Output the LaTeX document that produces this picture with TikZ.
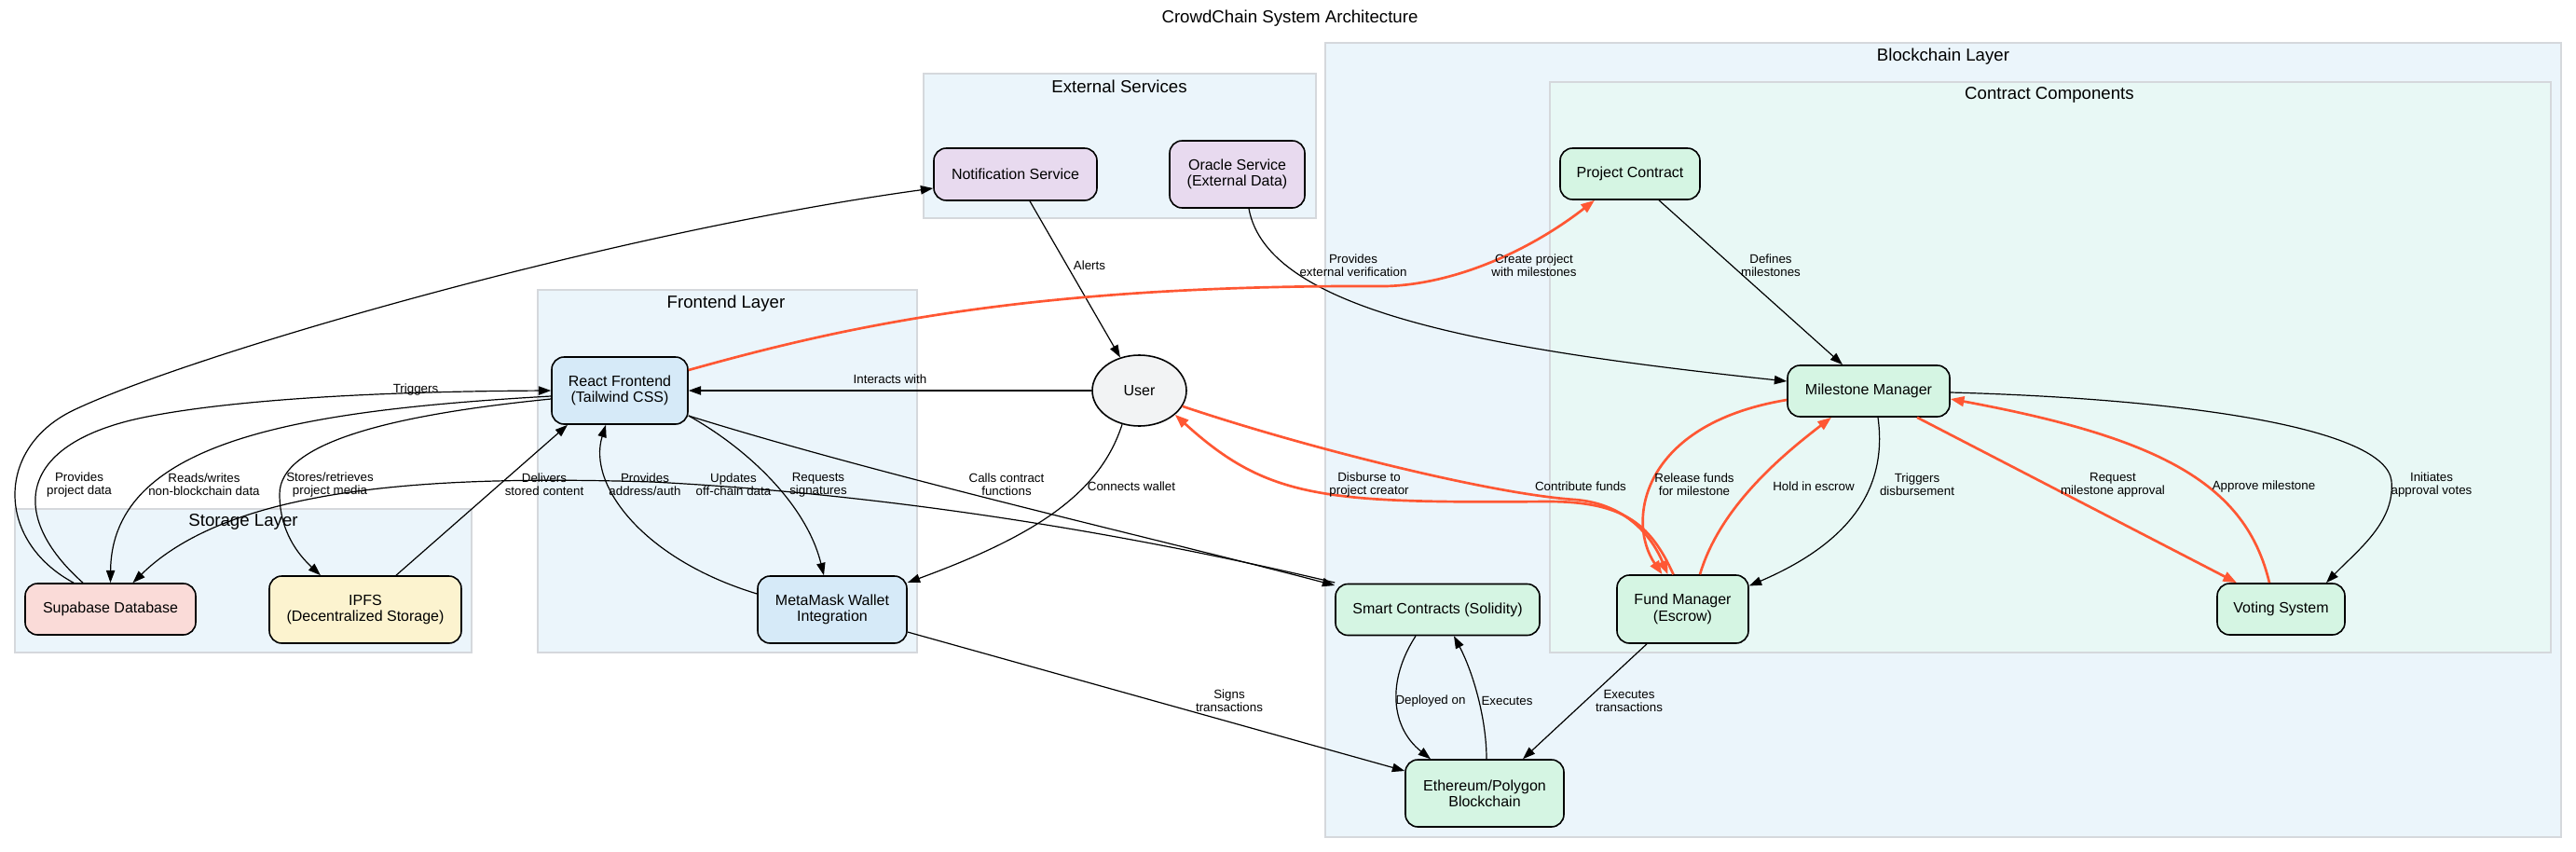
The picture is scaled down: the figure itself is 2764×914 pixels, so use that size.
\documentclass[tikz,border=0pt]{standalone}
\usepackage{fontspec}
\setmainfont{Liberation Sans}
\usetikzlibrary{arrows.meta,calc,shapes.geometric}
\definecolor{clusterfill}{HTML}{EBF5FB}
\definecolor{contractfill}{HTML}{E8F8F5}
\definecolor{clusterline}{HTML}{D5D8DC}
\definecolor{fefill}{HTML}{D6EAF8}
\definecolor{supafill}{HTML}{FADBD8}
\definecolor{ipfsfill}{HTML}{FCF3CF}
\definecolor{extfill}{HTML}{E8DAEF}
\definecolor{bcfill}{HTML}{D5F5E3}
\definecolor{userfill}{HTML}{F2F3F4}
\definecolor{hot}{HTML}{FF5733}
\begin{document}
\begin{tikzpicture}[x=0.75pt,y=-0.75pt,
  cluster/.style={draw=clusterline,line width=1.1pt,fill=clusterfill},
  clabel/.style={font=\fontsize{14}{16}\selectfont,anchor=center,inner sep=0pt},
  sz/.style 2 args={minimum width=#1*0.75pt,minimum height=#2*0.75pt},
  box/.style={draw=black,line width=1.2pt,rounded corners=10pt,align=center,inner sep=0pt,font=\fontsize{12}{13}\selectfont},
  elab/.style={font=\fontsize{10}{10.5}\selectfont,align=center,inner sep=0pt},
  edgeblk/.style={draw=black,line width=0.9pt,-{Triangle[length=10pt,width=7pt]}},
  edgehot/.style={draw=hot,line width=2pt,-{Triangle[length=11pt,width=8pt]}},
]
\useasboundingbox[fill=white] (0,0) rectangle (2764,914);

% clusters
\draw[cluster] (1422,46) rectangle (2748,898);
\draw[cluster,fill=contractfill] (1663,88) rectangle (2737,700);
\draw[cluster] (991,79) rectangle (1412,234);
\draw[cluster] (577,311) rectangle (984,700);
\draw[cluster] (16,546) rectangle (506,700);

\node[clabel] (title) at (1384,20) {CrowdChain System Architecture};
\node[clabel] (lblock) at (2085,61) {Blockchain Layer};
\node[clabel] (lcontract) at (2199,102) {Contract Components};
\node[clabel] (lext) at (1201,93) {External Services};
\node[clabel] (lfront) at (779,326) {Frontend Layer};
\node[clabel] (lstore) at (261,560) {Storage Layer};

% nodes
\node[box,sz={146}{72},fill=fefill] (react) at (665,419) {React Frontend\\(Tailwind CSS)};
\node[box,sz={160}{72},fill=fefill] (meta) at (893,654) {MetaMask Wallet\\Integration};
\node[box,sz={183}{55},fill=supafill] (supa) at (118.5,653.5) {Supabase Database};
\node[box,sz={206}{72},fill=ipfsfill] (ipfs) at (392,654) {IPFS\\(Decentralized Storage)};
\node[box,sz={175}{56},fill=extfill] (notif) at (1089.5,187) {Notification Service};
\node[box,sz={145}{72},fill=extfill] (oracle) at (1327.5,187) {Oracle Service\\(External Data)};
\node[draw=black,ellipse,line width=1.2pt,fill=userfill,sz={101}{76},inner sep=0pt,font=\fontsize{12}{13}\selectfont] (user) at (1222.5,419) {User};
\node[box,sz={150}{55},fill=bcfill] (project) at (1749,186.5) {Project Contract};
\node[box,sz={174}{55},fill=bcfill] (mile) at (2005,419.5) {Milestone Manager};
\node[box,sz={219}{55},fill=bcfill] (smart) at (1542.5,654) {Smart Contracts (Solidity)};
\node[box,sz={141}{73},fill=bcfill] (fund) at (1805.5,653.5) {Fund Manager\\(Escrow)};
\node[box,sz={137}{55},fill=bcfill] (voting) at (2447.5,653.5) {Voting System};
\node[box,sz={170}{72},fill=bcfill] (eth) at (1593,851) {Ethereum/Polygon\\Blockchain};

% edges
\draw[edgeblk] (user.west) -- (react.east);
\draw[edgeblk] ($(notif.south)+(15.5,0)$) -- (user);
\draw[edgeblk] ($(oracle.south)+(12.5,0)$) .. controls (1360,335) and (1600,375) .. ($(mile.west)+(0,-10.5)$);
\draw[edgeblk] ($(project.south)+(31,0)$) -- ($(mile.north)+(-28,0)$);
\draw[edgehot] ($(react.east)+(0,-22)$) .. controls (900,352) and (1100,305) .. (1487,307) .. controls (1560,305) and (1640,270) .. ($(project.south)+(-38,0)$);
\draw[edgehot] (user.-20) .. controls (1400,480) and (1600,530) .. (1690,536) .. controls (1740,540) and (1770,570) .. ($(fund.north)+(-16,0)$);
\draw[edgehot] ($(fund.north)+(-10,0)$) .. controls (1770,560) and (1740,538) .. (1660,538) .. controls (1420,540) and (1360,535) .. (user.-34);
\draw[edgehot] ($(mile.west)+(0,9.5)$) .. controls (1760,455) and (1745,560) .. ($(fund.north)+(-22,0)$);
\draw[edgehot] ($(fund.north)+(18.5,0)$) .. controls (1845,545) and (1910,490) .. ($(mile.south)+(-40,0)$);
\draw[edgeblk] ($(mile.south)+(10,0)$) .. controls (2025,520) and (1990,580) .. ($(fund.east)+(0,-25)$);
\draw[edgehot] ($(mile.south)+(52,0)$) -- ($(voting.north)+(-47.5,0)$);
\draw[edgehot] ($(voting.north)+(-12.5,0)$) .. controls (2410,520) and (2320,470) .. ($(mile.east)+(0,8.5)$);
\draw[edgeblk] ($(mile.east)+(0,1.5)$) .. controls (2350,428) and (2560,460) .. (2566,516) .. controls (2570,560) and (2530,590) .. ($(voting.north)+(48.5,0)$);
\draw[edgeblk] ($(smart.south)+(-23.5,0)$) .. controls (1488,730) and (1492,780) .. ($(eth.north)+(-58,0)$);
\draw[edgeblk] ($(eth.north)+(2,0)$) .. controls (1595,770) and (1580,720) .. ($(smart.south)+(17.5,0)$);
\draw[edgeblk] ($(fund.south)+(-38.5,0)$) -- ($(eth.north)+(41,0)$);
\draw[edgeblk] ($(meta.east)+(0,24)$) -- ($(eth.west)+(0,-24)$);
\draw[edgeblk] (user.243) .. controls (1180,530) and (1110,575) .. ($(meta.east)+(0,-29)$);
\draw[edgeblk] ($(react.east)+(0,27)$) .. controls (800,480) and (865,540) .. ($(meta.north)+(-9,0)$);
\draw[edgeblk] ($(meta.west)+(0,-17)$) .. controls (690,600) and (630,520) .. ($(react.south)+(-15,0)$);
\draw[edgeblk] ($(react.east)+(0,27)$) .. controls (950,512) and (1250,580) .. ($(smart.west)+(0,-26)$);
\draw[edgeblk] ($(smart.west)+(0,-29)$) .. controls (1200,570) and (950,530) .. (700,517) .. controls (470,510) and (250,520) .. ($(supa.north)+(24,0)$);
\draw[edgeblk] ($(react.west)+(0,6)$) .. controls (330,440) and (120,470) .. (supa.north);
\draw[edgeblk] ($(react.west)+(0,9)$) .. controls (420,445) and (300,475) .. (300,530) .. controls (300,570) and (320,595) .. ($(ipfs.north)+(-48,0)$);
\draw[edgeblk] ($(ipfs.north)+(33,0)$) -- ($(react.south)+(-56,0)$);
\draw[edgeblk] ($(supa.north)+(-29.5,0)$) .. controls (10,555) and (15,475) .. (158,447) .. controls (250,429) and (400,420) .. (react.west);
\draw[edgeblk] ($(supa.north)+(-39.5,0)$) .. controls (-5,580) and (-5,480) .. (79,440) .. controls (200,382) and (650,250) .. ($(notif.west)+(0,15)$);

% edge labels
\node[elab] (l1) at (955,407) {Interacts with};
\node[elab] (l2) at (1169,285) {Alerts};
\node[elab] (l3) at (1452,285) {Provides\\external verification};
\node[elab] (l4) at (1646,285) {Create project\\with milestones};
\node[elab] (l5) at (1900,285) {Defines\\milestones};
\node[elab] (l6) at (446,418) {Triggers};
\node[elab] (l7) at (85,520) {Provides\\project data};
\node[elab] (l8) at (219,520) {Reads/writes\\non-blockchain data};
\node[elab] (l9) at (354,520) {Stores/retrieves\\project media};
\node[elab] (l10) at (584,520) {Delivers\\stored content};
\node[elab] (l11) at (692,520) {Provides\\address/auth};
\node[elab] (l12) at (787,520) {Updates\\off-chain data};
\node[elab] (l13) at (878,520) {Requests\\signatures};
\node[elab] (l14) at (1080,520) {Calls contract\\functions};
\node[elab] (l15) at (1214,522) {Connects wallet};
\node[elab] (l16) at (1469,520) {Disburse to\\project creator};
\node[elab] (l17) at (1696,522) {Contribute funds};
\node[elab] (l18) at (1818,520) {Release funds\\for milestone};
\node[elab] (l19) at (1946,522) {Hold in escrow};
\node[elab] (l20) at (2057,520) {Triggers\\disbursement};
\node[elab] (l21) at (2267,520) {Request\\milestone approval};
\node[elab] (l22) at (2429,522) {Approve milestone};
\node[elab] (l23) at (2609,520) {Initiates\\approval votes};
\node[elab] (l24) at (1319,752) {Signs\\transactions};
\node[elab] (l25) at (1535,752) {Deployed on};
\node[elab] (l26) at (1617,752) {Executes};
\node[elab] (l27) at (1748,752) {Executes\\transactions};
\end{tikzpicture}
\end{document}
